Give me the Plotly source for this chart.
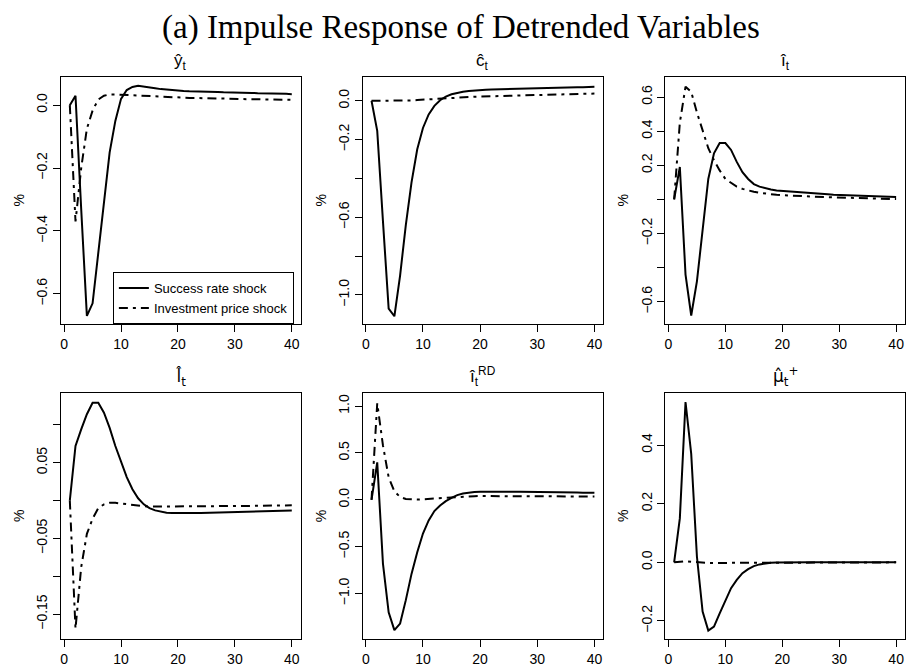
import plotly.graph_objects as go

# horizon
t = list(range(1, 41))

# y_t
y_success = [0.0, 0.03, -0.33, -0.67, -0.63, -0.47, -0.30, -0.15, -0.05, 0.02,
             0.048, 0.058, 0.062, 0.06, 0.057, 0.054, 0.051, 0.049, 0.047, 0.046,
             0.045, 0.044, 0.044, 0.043, 0.043, 0.042, 0.042, 0.041, 0.041, 0.040,
             0.040, 0.039, 0.039, 0.038, 0.038, 0.037, 0.037, 0.036, 0.036, 0.035]
y_invest = [0.0, -0.37, -0.20, -0.075, -0.017, 0.018, 0.030, 0.034, 0.034, 0.033,
            0.032, 0.031, 0.030, 0.029, 0.028, 0.027, 0.026, 0.025, 0.025, 0.024,
            0.024, 0.023, 0.023, 0.022, 0.022, 0.021, 0.021, 0.021, 0.020, 0.020,
            0.020, 0.019, 0.019, 0.019, 0.018, 0.018, 0.018, 0.017, 0.017, 0.017]

# c_t
c_success = [0.0, -0.155, -0.62, -1.07, -1.11, -0.90, -0.64, -0.42, -0.25, -0.14,
             -0.07, -0.026, 0.003, 0.022, 0.034, 0.042, 0.047, 0.051, 0.054, 0.056,
             0.057, 0.058, 0.059, 0.060, 0.061, 0.062, 0.063, 0.064, 0.065, 0.065,
             0.066, 0.067, 0.067, 0.068, 0.069, 0.069, 0.070, 0.070, 0.071, 0.072]
c_invest = [0.0, 0.0, -0.001, -0.001, -0.001, 0.0, 0.001, 0.002, 0.004, 0.006,
            0.008, 0.010, 0.012, 0.014, 0.016, 0.017, 0.019, 0.020, 0.021, 0.022,
            0.023, 0.024, 0.025, 0.026, 0.027, 0.027, 0.028, 0.029, 0.030, 0.030,
            0.031, 0.032, 0.032, 0.033, 0.034, 0.034, 0.035, 0.036, 0.036, 0.037]

# i_t
i_success = [0.0, 0.19, -0.44, -0.68, -0.48, -0.17, 0.12, 0.27, 0.33, 0.33,
             0.29, 0.22, 0.16, 0.12, 0.09, 0.075, 0.065, 0.058, 0.053, 0.05,
             0.047, 0.044, 0.041, 0.038, 0.036, 0.034, 0.032, 0.030, 0.028, 0.027,
             0.025, 0.024, 0.022, 0.021, 0.020, 0.019, 0.018, 0.017, 0.016, 0.015]
i_invest = [0.0, 0.45, 0.66, 0.63, 0.51, 0.40, 0.30, 0.23, 0.17, 0.12,
            0.095, 0.075, 0.062, 0.052, 0.045, 0.039, 0.034, 0.030, 0.027, 0.025,
            0.023, 0.021, 0.019, 0.018, 0.017, 0.015, 0.014, 0.013, 0.012, 0.011,
            0.010, 0.009, 0.008, 0.007, 0.006, 0.005, 0.004, 0.004, 0.003, 0.002]

# l_t
l_success = [0.0, 0.072, 0.094, 0.114, 0.129, 0.129, 0.116, 0.096, 0.072, 0.05,
             0.031, 0.015, 0.003, -0.005, -0.010, -0.013, -0.015, -0.016, -0.0165, -0.0167,
             -0.0167, -0.0166, -0.0165, -0.0163, -0.0161, -0.0159, -0.0157, -0.0155, -0.0153, -0.0151,
             -0.0149, -0.0147, -0.0145, -0.0143, -0.0141, -0.0139, -0.0137, -0.0135, -0.0133, -0.0131]
l_invest = [0.0, -0.169, -0.088, -0.044, -0.024, -0.010, -0.005, -0.003, -0.003, -0.004,
            -0.005, -0.006, -0.007, -0.0075, -0.008, -0.008, -0.008, -0.008, -0.008, -0.008,
            -0.008, -0.008, -0.008, -0.0079, -0.0078, -0.0077, -0.0076, -0.0075, -0.0074, -0.0073,
            -0.0072, -0.0071, -0.007, -0.0069, -0.0068, -0.0067, -0.0066, -0.0065, -0.0064, -0.0063]

# i_t^RD
ird_success = [0.0, 0.40, -0.68, -1.2, -1.39, -1.32, -1.07, -0.79, -0.56, -0.36,
               -0.22, -0.12, -0.06, -0.014, 0.02, 0.05, 0.068, 0.078, 0.084, 0.087,
               0.088, 0.088, 0.088, 0.087, 0.087, 0.086, 0.085, 0.085, 0.084, 0.083,
               0.082, 0.081, 0.080, 0.079, 0.078, 0.077, 0.077, 0.076, 0.075, 0.074]
ird_invest = [0.0, 1.03, 0.58, 0.24, 0.09, 0.03, 0.008, 0.002, 0.003, 0.006,
              0.01, 0.016, 0.022, 0.027, 0.031, 0.034, 0.036, 0.038, 0.039, 0.040,
              0.040, 0.040, 0.040, 0.040, 0.039, 0.039, 0.039, 0.038, 0.038, 0.038,
              0.037, 0.037, 0.037, 0.036, 0.036, 0.036, 0.035, 0.035, 0.035, 0.035]

# mu_t^+
mu_success = [0.0, 0.15, 0.547, 0.37, 0.02, -0.168, -0.233, -0.219, -0.174, -0.128,
              -0.088, -0.06, -0.037, -0.023, -0.013, -0.007, -0.003, -0.001, -0.0005, 0.0,
              0.0, 0.0, 0.0, 0.0, 0.0, 0.0, 0.0, 0.0, 0.0, 0.0,
              0.0, 0.0, 0.0, 0.0, 0.0, 0.0, 0.0, 0.0, 0.0, 0.0]
mu_invest = [0.0, 0.003, 0.004, 0.002, 0.0, -0.001, -0.002, -0.002, -0.002, -0.0015,
             -0.001, -0.001, -0.0005, 0.0, 0.0, 0.0, 0.0, 0.0, 0.0, 0.0,
             0.0, 0.0, 0.0, 0.0, 0.0, 0.0, 0.0, 0.0, 0.0, 0.0,
             0.0, 0.0, 0.0, 0.0, 0.0, 0.0, 0.0, 0.0, 0.0, 0.0]

titles = ["ŷ<sub>t</sub>", "ĉ<sub>t</sub>", "î<sub>t</sub>",
          "l̂<sub>t</sub>", "î<sub>t</sub><sup>RD</sup>", "μ̂<sub>t</sub><sup>+</sup>"]
title_fonts = ["Liberation Sans", "Liberation Sans", "Liberation Sans",
               "DejaVu Sans", "Liberation Sans", "DejaVu Sans"]
series = [(y_success, y_invest), (c_success, c_invest), (i_success, i_invest),
          (l_success, l_invest), (ird_success, ird_invest), (mu_success, mu_invest)]
yranges = [[-0.696, 0.091], [-1.15, 0.125], [-0.73, 0.72],
           [-0.183, 0.1425], [-1.486, 1.143], [-0.262, 0.579]]
# labelled ticks, then unlabelled ticks (R drops labels that would overlap)
ylabelled = [[0.0, -0.2, -0.4, -0.6], [0.0, -0.2, -0.6, -1.0], [0.6, 0.4, 0.2, -0.2, -0.6],
             [0.05, -0.05, -0.15], [1.0, 0.5, 0.0, -0.5, -1.0], [0.4, 0.2, 0.0, -0.2]]
yunlabelled = [[], [-0.4, -0.8], [0.0, -0.4], [0.10, 0.0, -0.10], [], []]
ytickfmt = [".1f", ".1f", ".1f", ".2f", ".1f", ".1f"]

W, H = 907, 667
cols = [(60, 300), (362, 603), (665, 905)]
rows = [(77, 326), (395, 643)]
font = "Liberation Sans, Arial, sans-serif"

fig = go.Figure()
layout = {}
annotations = []
for k in range(6):
    r, c = divmod(k, 3)
    n = "" if k == 0 else str(k + 1)
    xa, ya = "x" + n, "y" + n
    s, inv = series[k]
    fig.add_trace(go.Scatter(x=t, y=s, mode="lines", xaxis=xa, yaxis=ya,
                             line=dict(color="black", width=2),
                             name="Success rate shock", showlegend=(k == 0)))
    fig.add_trace(go.Scatter(x=t, y=inv, mode="lines", xaxis=xa, yaxis=ya,
                             line=dict(color="black", width=2, dash="9px,5px,3px,5px"),
                             name="Investment price shock", showlegend=(k == 0)))
    common = dict(showline=True, mirror=True, linecolor="black", linewidth=1,
                  ticks="outside", ticklen=7, tickwidth=1, tickcolor="black",
                  showgrid=False, zeroline=False,
                  tickfont=dict(family=font, size=14, color="black"))
    layout["xaxis" + n] = dict(common, domain=[cols[c][0] / W, cols[c][1] / W], anchor=ya,
                               range=[-0.56, 41.56], tickvals=[0, 10, 20, 30, 40])
    yax = dict(common, domain=[1 - rows[r][1] / H, 1 - rows[r][0] / H], anchor=xa,
               range=yranges[k], tickvals=ylabelled[k], tickformat=ytickfmt[k],
               tickangle=-90,
               title=dict(text="%", font=dict(family=font, size=14, color="black"),
                          standoff=6))
    if yunlabelled[k]:
        yax["minor"] = dict(tickvals=yunlabelled[k], ticks="outside", ticklen=7,
                            tickwidth=1, tickcolor="black", showgrid=False)
    layout["yaxis" + n] = yax
    annotations.append(dict(text=titles[k], x=(cols[c][0] + cols[c][1]) / 2 / W,
                            y=1 - (rows[r][0] - 2) / H, xref="paper", yref="paper",
                            xanchor="center", yanchor="bottom", showarrow=False,
                            font=dict(family=title_fonts[k], size=17, color="black")))

annotations.append(dict(text="(a) Impulse Response of Detrended Variables",
                        x=461 / W, y=1 - 28 / H, xref="paper", yref="paper",
                        xanchor="center", yanchor="middle", showarrow=False,
                        font=dict(family="Liberation Serif, Times New Roman, serif", size=33, color="black")))

fig.update_layout(**layout)
fig.update_layout(
    width=W, height=H,
    margin=dict(l=0, r=0, t=0, b=0),
    paper_bgcolor="white", plot_bgcolor="white",
    annotations=annotations,
    legend=dict(x=112 / W, y=1 - 326 / H, xanchor="left", yanchor="bottom",
                bordercolor="black", borderwidth=1, bgcolor="white",
                font=dict(family=font, size=13, color="black"),
                tracegroupgap=0, itemwidth=30),
)

fig.write_html("out.html", config={"displayModeBar": False},
               post_script="document.body.style.margin='0';")
